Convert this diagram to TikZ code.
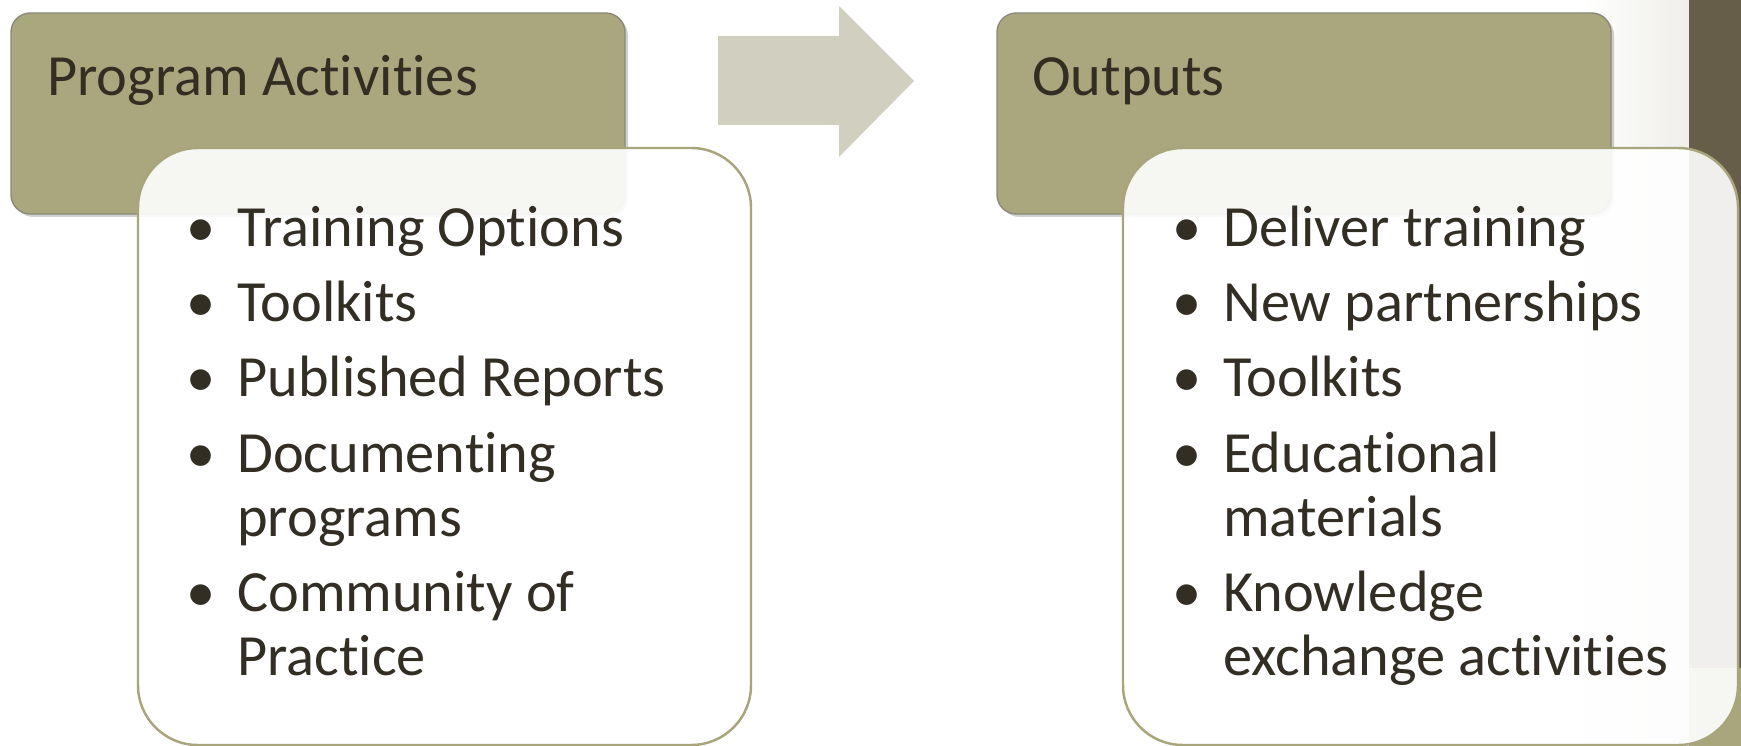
\documentclass[tikz,border=0pt]{standalone}
\usepackage{fontspec}
\setmainfont{Carlito}[Ligatures={NoCommon}]
\usepackage{tikz}

\definecolor{hdrfill}{HTML}{AAA77F}
\definecolor{hdredge}{HTML}{8B8977}
\definecolor{boxedge}{HTML}{A8A47C}
\definecolor{txtdark}{HTML}{332E23}
\definecolor{arrowfill}{HTML}{D1D0C0}
\definecolor{bgdark}{HTML}{665E48}
\definecolor{bgolive}{HTML}{A9A57D}
\definecolor{bgfade}{HTML}{EFEEEA}

\newcommand{\bul}{\llap{\textbullet\hspace{12.5pt}}}

\begin{document}
\begin{tikzpicture}[x=0.02cm, y=-0.02cm,
    header/.style={fill=hdrfill, draw=hdredge, line width=0.8pt, rounded corners=11pt},
    hshadow/.style={fill=black, opacity=0.18, rounded corners=11pt},
    listbox/.style={fill=white, fill opacity=0.9, draw=boxedge, line width=1.4pt, rounded corners=34pt},
    title/.style={anchor=base west, inner sep=0pt, text=txtdark, font=\fontsize{33.2}{36}\selectfont},
    item/.style={title}]
    \useasboundingbox (0,0) rectangle (1741,746);

    % slide background on the right
    \fill[left color=white, right color=bgfade] (1580,0) rectangle (1689,746);
    \fill[bgdark] (1689,0) rectangle (1741,668);
    \fill[bgolive] (1689,668) rectangle (1741,746);

    % header boxes
    \fill[hshadow] (14,16) rectangle (628,217);
    \draw[header] (11,13) rectangle (625,214);
    \fill[hshadow] (1000,16) rectangle (1614,217);
    \draw[header] (997,13) rectangle (1611,214);

    % arrow between the two columns
    \fill[arrowfill] (718,36) -- (839,36) -- (839,6) -- (914,81)
        -- (839,157) -- (839,125) -- (718,125) -- cycle;

    % list boxes
    \draw[listbox] (138,148) rectangle (751,745);
    \draw[listbox] (1123,148) rectangle (1738,745);

    % titles
    \node[title] (acttitle) at (47,96) {Program Activities};
    \node[title] (outtitle) at (1032,96) {Outputs};

    % activities
    \node[item] (act1) at (237,247) {\bul Training Options};
    \node[item] (act2) at (237,322) {\bul Toolkits};
    \node[item] (act3) at (237,397) {\bul Published Reports};
    \node[item] (act4) at (237,472) {\bul Documenting};
    \node[item] (act4b) at (237,536) {programs};
    \node[item] (act5) at (237,611) {\bul Community of};
    \node[item] (act5b) at (237,675) {Practice};

    % outputs
    \node[item] (out1) at (1223,247) {\bul Deliver training};
    \node[item] (out2) at (1223,322) {\bul New partnerships};
    \node[item] (out3) at (1223,397) {\bul Toolkits};
    \node[item] (out4) at (1223,472) {\bul Educational};
    \node[item] (out4b) at (1223,536) {materials};
    \node[item] (out5) at (1223,611) {\bul Knowledge};
    \node[item] (out5b) at (1223,675) {exchange activities};
\end{tikzpicture}
\end{document}
